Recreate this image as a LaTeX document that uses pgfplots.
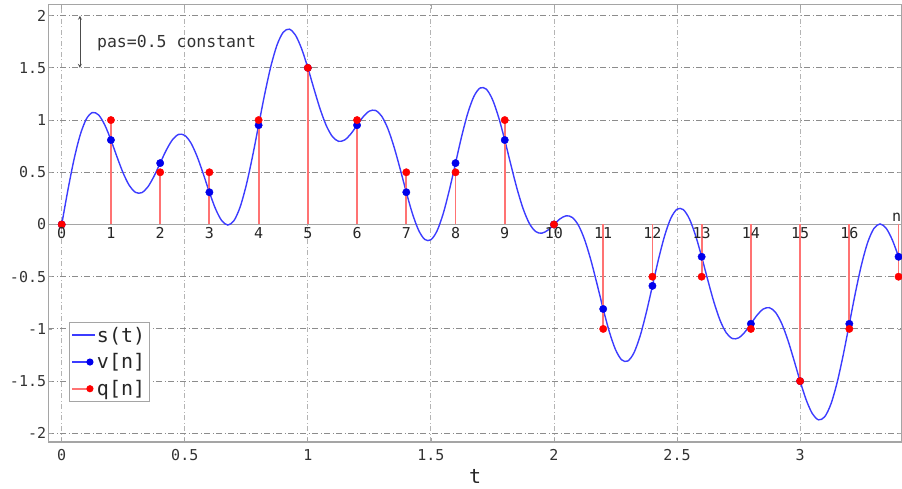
\documentclass[border=0pt]{standalone}
\usepackage{fontspec}
\setmainfont{DejaVu Sans Mono}
\usepackage{pgfplots}
\pgfplotsset{compat=1.18}
\definecolor{curveblue}{RGB}{60,60,255}
\definecolor{dotblue}{RGB}{0,0,235}
\definecolor{dotred}{RGB}{255,0,0}
\definecolor{stemred}{RGB}{255,115,115}
\definecolor{ygridgray}{RGB}{140,140,140}
\definecolor{xgridgray}{RGB}{180,180,180}
\definecolor{axgray}{RGB}{165,165,165}
\pgfplotstableread{
x y q
0 0 0
0.2 0.80902 1
0.4 0.58779 0.5
0.6 0.30902 0.5
0.8 0.95106 1
1.0 1.5 1.5
1.2 0.95106 1
1.4 0.30902 0.5
1.6 0.58779 0.5
1.8 0.80902 1
2.0 0 0
2.2 -0.80902 -1
2.4 -0.58779 -0.5
2.6 -0.30902 -0.5
2.8 -0.95106 -1
3.0 -1.5 -1.5
3.2 -0.95106 -1
3.4 -0.30902 -0.5
}\samples
\pgfplotstableread{
x y lab
0 0 0
0.2 0 1
0.4 0 2
0.6 0 3
0.8 0 4
1.0 0 5
1.2 0 6
1.4 0 7
1.6 0 8
1.8 0 9
2.0 0 10
2.2 0 11
2.4 0 12
2.6 0 13
2.8 0 14
3.0 0 15
3.2 0 16
}\nlabels
\begin{document}
\begin{tikzpicture}
\begin{axis}[name=ax, scale only axis, width=853.7pt, height=437.3pt,
  xmin=-0.0545, xmax=3.414, ymin=-2.083, ymax=2.105,
  xtick={0,0.5,1,1.5,2,2.5,3},
  ytick={-2,-1.5,-1,-0.5,0,0.5,1,1.5,2},
  /pgf/number format/assume math mode=true,
  ticklabel style={font=\fontsize{15}{18}\selectfont, text=black!80},
  yticklabel style={inner sep=2pt},
  xticklabel style={yshift=-4pt},
  xlabel={t}, xlabel style={font=\fontsize{20}{24}\selectfont, text=black!85, yshift=-2pt},
  grid=major,
  x grid style={xgridgray, line width=0.9pt, dash pattern=on 5pt off 2.5pt on 1pt off 2.5pt},
  y grid style={ygridgray, line width=0.9pt, dash pattern=on 6pt off 2.5pt on 1pt off 2.5pt},
  axis line style={axgray, line width=1.2pt},
  tick style={axgray, line width=0.8pt}, major tick length=4pt,
  extra y ticks={0}, extra y tick labels={},
  extra y tick style={grid=major, y grid style={solid, axgray, line width=1.4pt}, tick style={draw=none}},
  legend style={at={(0.0242,0.2744)}, anchor=north west, font=\fontsize{20}{23}\selectfont,
    draw=axgray, line width=1pt, inner sep=2.5pt, row sep=6pt, text=black!85},
  legend cell align=left,
]
\addplot[curveblue, line width=1.4pt, smooth, forget plot] coordinates {
(0,0) (0.025,0.32815) (0.05,0.62335) (0.075,0.85727) (0.1,1.00998) (0.125,1.07276) (0.15,1.04894) (0.175,0.95317) (0.2,0.80902) (0.225,0.64517) (0.25,0.49107) (0.275,0.37245) (0.3,0.30754) (0.325,0.30447) (0.35,0.36029) (0.375,0.46178) (0.4,0.58779) (0.425,0.71288) (0.45,0.81166) (0.475,0.86295) (0.5,0.85356) (0.525,0.78053) (0.55,0.65202) (0.575,0.48627) (0.6,0.30902) (0.625,0.14974) (0.65,0.03715) (0.675,-0.00517) (0.7,0.03746) (0.725,0.16841) (0.75,0.37899) (0.775,0.64930) (0.8,0.95106) (0.825,1.25135) (0.85,1.51726) (0.875,1.72052) (0.9,1.84124) (0.925,1.87074) (0.95,1.81241) (0.975,1.68096) (1,1.5) (1.025,1.29828) (1.05,1.10531) (1.075,0.94686) (1.1,0.84124) (1.125,0.79664) (1.15,0.81016) (1.175,0.86867) (1.2,0.95106) (1.225,1.03198) (1.25,1.08609) (1.275,1.09229) (1.3,1.03746) (1.325,0.91871) (1.35,0.74425) (1.375,0.53242) (1.4,0.30902) (1.425,0.10359) (1.45,-0.05508) (1.475,-0.14335) (1.5,-0.14644) (1.525,-0.06093) (1.55,0.10456) (1.575,0.33020) (1.6,0.58779) (1.625,0.84446) (1.65,1.06739) (1.675,1.22835) (1.7,1.30754) (1.725,1.29633) (1.75,1.19817) (1.775,1.02785) (1.8,0.80902) (1.825,0.57049) (1.85,0.34184) (1.875,0.14888) (1.9,0.00998) (1.925,-0.06661) (1.95,-0.08375) (1.975,-0.05453) (2,0)
(2.025,0.05453) (2.05,0.08375) (2.075,0.06661) (2.1,-0.00998) (2.125,-0.14888) (2.15,-0.34184) (2.175,-0.57049) (2.2,-0.80902) (2.225,-1.02785) (2.25,-1.19817) (2.275,-1.29633) (2.3,-1.30754) (2.325,-1.22835) (2.35,-1.06739) (2.375,-0.84446) (2.4,-0.58779) (2.425,-0.33020) (2.45,-0.10456) (2.475,0.06093) (2.5,0.14644) (2.525,0.14335) (2.55,0.05508) (2.575,-0.10359) (2.6,-0.30902) (2.625,-0.53242) (2.65,-0.74425) (2.675,-0.91871) (2.7,-1.03746) (2.725,-1.09229) (2.75,-1.08609) (2.775,-1.03198) (2.8,-0.95106) (2.825,-0.86867) (2.85,-0.81016) (2.875,-0.79664) (2.9,-0.84124) (2.925,-0.94686) (2.95,-1.10531) (2.975,-1.29828) (3,-1.5) (3.025,-1.68096) (3.05,-1.81241) (3.075,-1.87074) (3.1,-1.84124) (3.125,-1.72052) (3.15,-1.51726) (3.175,-1.25135) (3.2,-0.95106) (3.225,-0.64930) (3.25,-0.37899) (3.275,-0.16841) (3.3,-0.03746) (3.325,0.00517) (3.35,-0.03715) (3.375,-0.14974) (3.4,-0.30902)
};
\addplot[ycomb, stemred, line width=1.8pt, forget plot] table[x=x, y=q] {\samples};
\addplot[only marks, mark=*, mark size=3.7pt, mark options={fill=dotblue, draw=dotblue}, forget plot] table[x=x, y=y] {\samples};
\addplot[only marks, mark=*, mark size=3.7pt, mark options={fill=dotred, draw=dotred}, forget plot] table[x=x, y=q] {\samples};
\addplot[draw=none, mark=none, forget plot, nodes near coords, point meta=explicit symbolic,
  nodes near coords align={anchor=north},
  every node near coord/.append style={anchor=north, font=\fontsize{15}{18}\selectfont, inner sep=3pt, text=black!85}]
  table[x=x, y=y, meta=lab] {\nlabels};
\addlegendimage{legend image code/.code={\fill[fill=curveblue, draw=none] (0pt,-1pt) rectangle (23pt,1pt);}}
\addlegendentry{s(t)}
\addlegendimage{legend image code/.code={\fill[fill=curveblue, draw=none] (0pt,-0.8pt) rectangle (20pt,0.8pt); \fill[fill=dotblue, draw=none] (18pt,0pt) circle (3.6pt);}}
\addlegendentry{v[n]}
\addlegendimage{legend image code/.code={\fill[fill=stemred, draw=none] (0pt,-0.8pt) rectangle (20pt,0.8pt); \fill[fill=dotred, draw=none] (18pt,0pt) circle (3.6pt);}}
\addlegendentry{q[n]}
\draw[<->, >=stealth, black!70, line width=0.8pt] (axis cs:0.074,2) -- (axis cs:0.074,1.5);
\node[anchor=west, inner sep=0pt, font=\fontsize{16.5}{20}\selectfont, text=black!80] at (axis cs:0.143,1.739) {pas=0.5 constant};
\node[anchor=south, inner sep=3pt, font=\fontsize{15}{18}\selectfont, text=black!85] at (axis cs:3.392,0) {n};
\end{axis}
\pgfresetboundingbox
\path[use as bounding box] ([xshift=-48.3pt,yshift=-46pt]ax.south west) rectangle ([yshift=4.7pt]ax.north east);
\end{tikzpicture}
\end{document}
